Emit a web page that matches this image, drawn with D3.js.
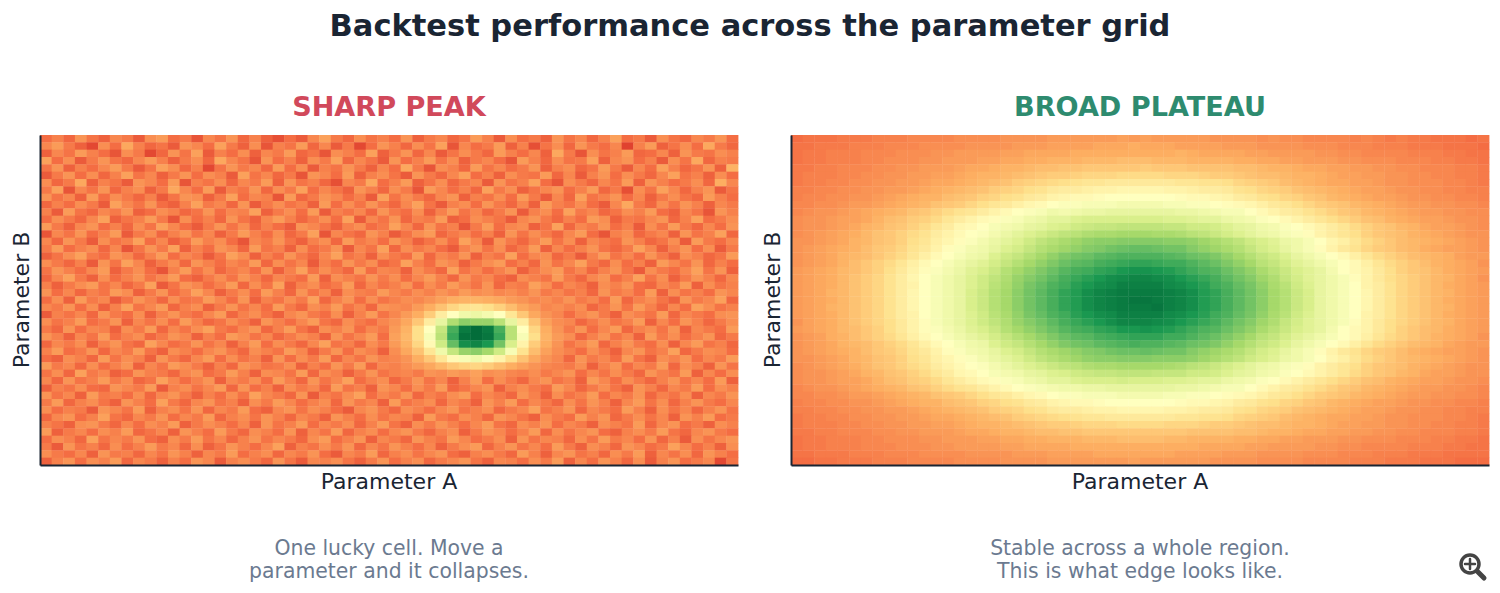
<!DOCTYPE html>
<html>
<head>
<meta charset="utf-8">
<script src="https://cdn.jsdelivr.net/npm/d3@7"></script>
<style>
  html, body { margin: 0; padding: 0; background: #fff; }
  text { font-family: "DejaVu Sans", sans-serif; }
</style>
</head>
<body>
<svg id="chart" width="1500" height="593"></svg>
<script>
// values, 0-100 on the RdYlGn ramp, 60 columns x 45 rows
var chartTitle = 'Backtest performance across the parameter grid';
var panelTitles = ['SHARP PEAK', 'BROAD PLATEAU'];
var captions = [['One lucky cell. Move a', 'parameter and it collapses.'], ['Stable across a whole region.', 'This is what edge looks like.']];
var xLabel = 'Parameter A';
var yLabel = 'Parameter B';
var rampStops = [0, 10, 20, 30, 40, 50, 60, 70, 80, 90, 100];
var rampColors = ['#a50026', '#d73027', '#f46d43', '#fdae61', '#fee08b', '#ffffbf', '#d9ef8b', '#a6d96a', '#66bd63', '#1a9850', '#006837'];

var sharpGrid = [
[20,23,19,26,21,18,24,22,17,25,27,20,22,16,24,21,26,19,23,18,15,20,17,24,28,22,19,25,21,23,20,26,18,22,24,19,21,27,23,17,25,20,22,18,26,21,24,19,23,28,20,22,17,25,21,19,24,22,26,20],
[24,27,22,18,14,25,20,29,23,19,21,17,26,24,20,28,22,18,25,16,23,21,27,19,24,17,22,14,20,26,23,19,25,21,28,16,24,20,22,27,18,23,15,21,25,19,26,22,20,24,13,23,27,18,21,25,20,29,22,19],
[18,24,21,27,23,20,16,25,22,14,19,26,21,28,17,23,20,25,18,24,22,27,19,21,16,25,23,20,28,18,22,26,19,24,17,21,25,22,19,27,23,20,24,18,29,22,16,25,21,23,27,19,20,24,18,26,22,21,25,23],
[28,20,25,17,22,26,21,19,24,27,23,18,22,25,19,29,24,21,16,26,20,23,18,25,22,28,19,24,21,17,26,20,23,27,21,25,18,22,24,20,16,27,23,19,25,21,22,28,18,24,26,20,23,17,25,21,29,19,23,22],
[21,26,18,23,20,24,27,22,17,21,28,25,19,23,14,21,26,22,24,19,27,20,25,17,23,21,26,22,18,24,20,29,22,16,25,23,19,27,21,24,20,22,26,18,23,25,19,21,27,22,17,24,20,28,23,19,21,26,18,31],
[17,22,26,20,25,19,23,28,21,24,18,22,26,20,25,23,17,28,21,24,19,22,16,26,24,20,27,18,23,25,21,17,26,22,19,24,28,20,23,18,25,22,21,27,19,24,17,23,26,20,25,22,19,24,28,21,23,18,25,20],
[25,19,22,29,18,23,21,17,26,24,20,27,16,23,21,25,19,24,22,27,18,26,21,23,19,15,24,22,29,20,23,27,18,21,25,19,22,24,17,26,21,23,28,20,16,25,22,19,24,21,27,18,26,23,20,22,25,19,30,24],
[22,28,16,24,21,26,19,23,25,18,22,29,24,20,27,17,23,21,26,19,25,22,28,20,24,21,18,26,23,19,25,22,16,27,24,20,23,19,28,22,25,18,21,24,26,20,23,27,19,22,15,25,21,28,24,19,23,26,17,21],
[26,21,24,18,27,20,25,22,19,23,17,21,26,25,18,22,28,20,24,23,16,27,19,22,26,24,20,23,17,28,21,25,22,19,24,26,18,23,21,25,20,27,22,17,24,19,28,21,23,26,20,24,18,22,25,21,19,27,23,20],
[19,23,20,25,22,17,28,24,21,26,20,18,23,28,22,24,19,26,17,22,25,21,23,18,27,20,25,21,26,22,19,24,28,21,17,23,25,20,26,22,19,24,18,27,23,21,25,20,17,24,29,22,19,25,21,26,23,18,24,22],
[23,17,27,21,19,24,22,26,18,20,25,23,19,21,26,20,24,23,28,18,22,25,20,27,17,23,21,24,19,26,22,20,25,18,23,27,21,24,19,22,26,17,23,25,20,28,22,24,19,21,25,23,27,20,18,24,21,16,26,23],
[20,25,22,19,24,28,18,21,23,27,22,16,25,20,23,19,26,21,18,24,27,23,19,22,25,20,28,17,24,21,26,19,23,22,27,18,20,25,23,21,17,24,26,22,19,23,20,27,25,18,22,21,24,26,19,23,28,20,22,25],
[27,22,18,24,26,20,23,19,25,21,28,24,20,17,22,26,21,25,19,23,20,17,26,24,21,18,23,25,20,22,28,24,19,26,21,23,16,22,27,20,24,25,18,21,28,19,24,22,26,20,23,17,25,21,27,22,19,24,20,26],
[16,24,21,26,20,23,27,17,22,25,19,23,26,21,24,18,22,27,23,20,25,19,22,28,16,24,21,19,26,23,17,21,25,27,19,22,24,20,23,18,26,21,25,22,19,24,27,20,16,23,25,19,22,24,18,26,21,23,28,19],
[24,19,26,22,17,25,21,23,28,20,24,18,21,27,23,25,20,16,24,22,26,21,18,23,25,19,27,22,24,20,26,23,18,21,25,20,28,24,17,26,22,19,23,27,21,25,18,24,22,20,26,23,19,21,25,17,27,22,20,24],
[22,27,20,23,25,19,24,16,21,26,22,28,18,23,20,26,24,19,27,21,23,18,25,20,22,26,17,24,21,28,19,25,22,24,20,17,23,26,21,25,19,22,27,18,24,20,23,26,21,19,22,28,24,18,23,26,20,25,17,22],
[18,21,25,28,22,20,26,24,19,23,27,20,24,22,17,21,28,25,18,23,20,26,22,19,24,28,21,23,18,25,22,20,27,19,24,22,26,18,23,21,28,20,24,25,19,22,17,23,27,21,24,20,26,22,18,25,23,19,21,27],
[25,22,19,23,17,26,21,28,24,18,22,25,19,26,23,20,24,22,27,19,25,21,24,17,23,20,26,22,25,19,21,28,23,20,26,24,18,22,25,27,20,23,19,26,21,24,28,22,19,25,20,23,18,27,24,21,26,19,23,20],
[21,26,23,20,24,27,18,22,25,20,16,23,27,21,25,19,22,24,20,26,18,23,28,21,25,22,19,27,20,24,23,18,25,22,19,28,21,24,20,23,26,18,22,25,27,21,24,19,23,26,21,17,25,22,20,24,28,21,26,18],
[19,24,28,22,18,25,20,23,26,21,24,27,20,18,22,25,21,26,23,19,24,22,20,27,18,25,23,21,26,22,25,20,24,27,23,19,26,22,24,20,18,25,23,21,27,22,19,24,26,20,23,28,21,25,18,22,26,23,19,24],
[23,18,22,25,27,21,24,19,22,28,17,21,26,24,20,23,27,19,25,21,28,18,23,25,20,22,27,19,24,21,23,26,20,25,22,27,24,21,26,19,23,22,28,25,20,24,22,18,25,23,26,20,19,24,22,27,18,25,21,23],
[26,20,24,19,23,21,27,25,18,22,26,20,23,28,24,18,22,25,20,27,23,19,26,21,24,18,25,23,22,27,24,22,25,23,26,24,27,25,26,24,25,23,26,22,24,21,23,19,26,22,24,20,27,18,25,21,23,20,26,24],
[20,25,18,27,22,24,17,21,26,23,19,25,21,22,27,24,20,26,18,23,21,25,22,28,19,23,26,20,25,21,23,25,24,26,28,30,31,31,30,29,27,26,24,25,23,26,22,24,20,27,19,23,25,21,18,26,22,24,28,19],
[24,22,26,20,25,18,23,28,21,24,27,19,23,25,18,22,26,21,24,20,27,22,19,25,23,27,21,24,19,26,25,24,27,30,34,38,41,42,40,37,33,29,27,24,25,23,25,19,22,26,21,27,23,19,24,20,28,25,21,23],
[17,23,21,24,19,26,22,20,25,18,23,26,22,20,24,27,19,23,25,21,18,24,26,22,20,25,18,23,27,21,24,27,30,36,44,50,54,55,53,50,42,35,29,26,24,20,24,26,22,18,25,23,21,27,19,24,22,20,25,26],
[25,21,23,27,20,22,26,18,24,21,25,20,27,23,19,21,25,22,18,26,23,20,24,27,21,19,25,22,20,24,26,29,35,44,56,68,74,72,72,66,56,44,34,28,25,24,19,22,25,21,23,27,18,24,20,26,23,19,22,25],
[22,19,26,20,24,23,18,25,22,27,19,24,21,25,28,22,20,24,26,19,23,27,21,18,25,23,26,20,24,22,27,31,40,50,64,84,96,99,96,84,66,50,38,30,26,22,26,20,24,27,19,23,25,21,26,18,24,22,20,27],
[26,23,18,24,21,27,20,23,25,19,22,26,24,18,23,20,27,25,21,24,19,22,25,23,18,26,21,24,27,20,28,32,40,52,66,86,98,99,97,86,66,52,40,31,27,25,19,23,26,21,24,18,27,22,25,20,23,26,19,22],
[19,24,22,25,18,23,26,21,19,28,24,20,22,26,21,24,18,23,27,20,25,22,19,24,28,21,23,19,25,22,27,31,38,48,62,80,92,94,90,78,60,46,36,30,26,21,24,27,19,23,26,22,20,25,18,24,27,21,23,19],
[23,27,20,22,26,19,24,22,27,21,18,25,23,20,24,26,22,19,25,23,21,27,24,18,22,26,20,25,23,18,25,29,34,42,54,64,72,74,70,62,52,41,33,28,25,23,20,25,22,18,24,26,21,23,28,19,22,25,24,20],
[20,18,25,23,19,27,21,25,23,18,26,22,19,24,27,20,25,21,23,18,26,20,25,22,27,19,24,21,26,23,24,26,30,35,42,48,52,54,51,46,40,34,29,26,24,19,26,22,24,20,27,21,18,25,23,26,20,24,22,27],
[27,22,24,19,25,20,23,26,18,24,21,27,25,22,18,23,19,26,24,21,22,25,18,23,20,26,22,27,19,24,23,25,27,29,32,35,37,38,36,33,30,28,26,24,23,22,25,18,23,26,20,24,22,27,19,25,23,18,26,21],
[21,25,19,28,22,24,18,20,26,23,22,19,24,26,20,22,27,23,18,25,24,21,27,19,25,23,18,22,26,21,23,24,22,26,25,27,26,28,25,26,24,23,25,22,24,26,20,24,21,25,22,19,26,23,21,27,18,24,20,25],
[24,19,26,21,23,27,22,25,19,21,28,24,20,23,26,18,24,22,25,20,27,23,19,26,21,24,28,20,23,25,19,22,26,21,24,18,23,27,20,25,22,19,24,26,21,23,18,27,24,20,25,22,19,23,26,21,24,20,27,18],
[18,23,21,25,20,19,26,24,22,27,17,23,25,21,24,27,19,26,20,23,18,25,22,24,19,27,21,23,18,26,24,20,25,22,27,19,21,24,26,18,23,25,22,20,27,24,19,22,25,21,18,26,23,19,24,22,27,20,25,23],
[26,21,24,18,27,22,23,20,25,19,24,26,22,18,23,20,25,21,28,24,22,19,26,17,23,21,25,28,20,24,22,26,19,23,21,25,27,20,24,22,19,26,23,18,25,21,23,27,20,24,22,26,19,23,21,25,18,24,22,26],
[22,27,19,23,25,21,18,26,23,20,28,22,19,24,26,21,23,18,25,22,27,24,20,23,25,19,26,22,24,18,27,21,23,25,19,24,22,18,26,23,27,20,24,22,19,25,21,26,23,18,24,27,21,25,19,23,26,22,20,24],
[25,20,23,22,17,26,24,21,27,18,23,25,21,26,19,24,22,27,20,18,24,26,21,25,23,20,17,24,26,22,19,25,23,20,24,26,21,23,25,19,22,24,28,21,23,26,19,24,22,20,27,23,18,25,21,24,19,23,26,21],
[19,24,26,20,23,28,21,19,24,22,26,20,24,22,27,19,23,25,21,26,23,19,24,22,18,26,23,20,25,21,24,23,18,27,22,20,25,23,19,26,24,21,18,25,22,20,27,23,26,19,22,25,21,24,18,26,23,27,20,22],
[23,21,18,25,26,22,19,24,20,25,23,27,18,22,25,23,20,24,18,26,21,23,27,20,24,22,25,19,23,27,21,18,25,22,26,23,20,24,27,21,19,25,23,26,20,24,22,18,25,23,21,27,19,24,26,20,22,18,25,23],
[27,18,22,24,20,25,23,27,19,21,24,18,26,23,20,27,22,19,25,23,20,26,18,24,21,27,19,23,25,20,24,26,22,19,23,25,18,22,26,24,20,23,27,19,25,21,24,26,20,18,23,25,22,27,21,19,24,26,22,20],
[20,25,23,19,28,21,24,22,26,20,18,25,22,27,21,24,19,23,26,21,24,22,19,25,27,20,23,26,18,24,22,19,26,23,21,27,24,20,22,25,18,26,21,24,23,19,25,21,27,22,24,20,26,19,23,17,25,21,24,26],
[22,17,26,21,23,19,25,20,23,27,22,24,19,25,18,21,26,23,20,24,28,18,23,21,25,22,26,19,24,21,26,23,20,24,18,22,25,27,19,23,26,21,24,20,27,22,18,25,23,19,26,24,20,22,28,24,20,23,18,25],
[25,22,20,24,18,26,22,23,19,24,21,26,23,18,24,22,27,20,23,25,19,24,22,26,20,17,24,22,27,19,23,25,21,24,26,20,18,23,25,22,19,27,23,18,24,26,21,23,19,25,22,27,18,24,21,25,19,26,23,20],
[18,23,26,20,25,23,27,19,24,22,18,23,20,26,24,17,23,25,22,19,26,21,17,24,23,25,21,18,22,26,20,23,25,19,22,24,26,21,18,24,23,20,25,22,27,18,24,20,26,23,19,25,17,23,26,20,22,24,14,21]
];

var plateauGrid = [
[20,21,21,21,22,22,22,23,23,23,24,24,24,24,25,25,25,25,26,26,26,26,27,27,27,27,27,27,28,27,28,27,27,27,27,27,26,26,26,26,25,26,25,25,24,24,24,24,23,24,23,22,23,22,22,21,21,21,20,21],
[21,21,22,22,22,23,23,23,24,24,24,25,25,25,25,26,26,26,26,27,27,27,28,28,28,28,29,29,29,30,29,29,29,28,28,28,28,27,27,27,26,26,26,26,25,25,25,24,24,24,23,23,23,22,22,22,21,21,21,20],
[21,22,22,23,23,23,24,24,24,25,25,25,26,26,27,27,27,27,28,28,29,29,29,29,30,30,30,30,30,30,30,30,30,31,30,29,29,29,29,28,28,27,27,27,27,26,26,25,25,24,24,24,24,23,23,23,22,22,21,21],
[21,22,22,23,23,23,24,24,25,25,25,26,26,27,27,27,28,28,29,29,30,30,31,31,31,32,32,32,33,33,33,32,32,32,31,31,31,31,30,30,29,29,28,28,27,27,27,26,26,25,25,25,24,24,24,23,23,22,22,21],
[22,22,23,23,24,24,24,25,25,26,26,27,27,27,28,29,29,30,31,31,32,33,33,34,34,35,35,35,35,35,36,35,35,35,34,34,34,34,33,33,32,31,31,30,29,29,28,28,27,27,26,26,25,25,24,24,24,23,23,22],
[22,23,23,23,24,24,25,25,26,26,27,27,28,28,29,30,31,31,32,33,34,35,36,36,37,38,38,38,39,39,39,39,38,38,38,37,36,36,35,34,33,33,32,31,31,30,29,28,28,27,27,26,26,25,25,24,24,23,23,22],
[22,23,23,24,24,25,25,26,26,27,27,28,29,29,30,31,32,33,34,36,37,38,39,40,41,42,42,43,43,43,43,43,43,42,42,41,41,40,38,37,36,35,33,32,31,30,29,29,28,28,27,26,26,25,25,25,24,24,23,22],
[23,23,24,24,25,25,26,26,27,27,28,29,30,31,32,33,34,36,37,38,40,41,43,44,44,45,46,46,47,47,47,47,46,46,45,44,44,43,41,40,38,37,36,34,33,32,31,30,29,28,28,27,26,26,25,25,24,24,23,23],
[23,24,24,25,25,26,26,27,28,29,30,31,31,33,34,35,37,38,40,41,43,44,46,47,48,48,49,50,50,50,50,50,50,49,48,48,47,46,44,43,41,40,38,37,35,34,32,31,30,29,28,28,27,26,26,25,25,24,24,23],
[24,24,25,25,26,27,27,28,29,30,31,32,34,35,36,38,40,42,43,45,47,48,50,51,51,52,52,52,53,53,53,53,52,52,51,51,50,49,48,47,45,43,42,40,38,36,35,34,32,31,30,29,28,27,27,26,26,25,25,24],
[24,25,26,26,27,28,29,30,31,32,34,35,37,39,41,42,44,46,48,50,51,52,54,53,54,55,55,56,56,56,56,56,56,55,55,54,53,52,52,50,48,46,44,43,41,39,37,35,34,32,31,30,29,28,27,27,26,26,25,25],
[25,26,26,27,28,28,29,31,33,34,36,37,39,42,44,46,48,49,51,52,54,55,57,57,59,60,60,60,60,60,60,60,59,59,58,57,57,55,54,53,51,50,48,46,44,42,40,38,36,34,33,31,30,29,28,28,27,26,26,25],
[25,26,26,27,28,29,31,32,34,35,37,39,42,44,47,48,50,52,53,54,56,57,59,60,62,63,64,64,65,65,65,65,64,64,62,62,61,59,57,56,54,53,51,50,48,46,44,42,39,37,35,34,32,31,29,28,28,27,26,25],
[25,26,27,28,29,30,32,34,35,37,39,41,44,46,48,50,51,53,55,57,59,61,63,65,66,68,69,69,70,70,70,69,69,68,66,65,63,61,59,57,55,54,52,51,49,46,44,42,40,37,35,34,33,31,30,29,28,27,26,26],
[26,26,27,28,29,31,32,34,35,37,40,42,45,47,49,51,53,55,57,59,62,65,67,69,71,73,74,74,75,75,75,75,74,74,73,71,69,67,65,62,60,58,55,54,52,50,47,45,42,39,37,35,33,32,31,30,29,28,27,26],
[26,27,28,29,30,31,33,35,36,38,41,43,46,49,51,53,54,56,59,61,64,67,69,71,73,75,76,78,79,80,80,79,78,78,75,73,71,69,67,64,61,59,56,54,52,49,46,43,41,38,36,35,33,32,30,29,28,28,27,26],
[26,27,28,29,31,32,33,35,37,39,42,45,48,50,52,54,55,59,62,64,67,70,73,76,78,79,81,82,83,83,83,83,82,81,79,78,76,73,70,67,64,62,59,56,54,52,50,48,45,42,39,37,35,33,32,31,30,28,27,27],
[26,27,28,29,31,33,35,37,39,42,45,48,50,52,54,56,58,61,64,67,70,73,76,79,81,82,84,85,86,87,87,86,85,85,83,81,79,76,73,70,66,64,61,58,56,54,52,50,48,45,42,39,37,35,33,31,30,29,28,26],
[27,28,29,30,32,33,35,37,40,43,46,49,51,53,55,58,60,63,67,70,73,76,79,82,84,85,87,88,90,91,91,90,89,87,85,83,82,79,76,73,69,66,63,60,58,56,53,50,48,46,43,40,37,35,34,32,30,29,28,27],
[27,28,29,30,32,34,36,38,41,44,47,50,52,54,56,59,62,65,68,72,75,78,81,84,86,88,90,92,93,94,94,93,92,90,88,86,84,81,78,75,71,68,64,61,58,56,54,52,49,46,43,40,38,36,34,32,31,29,28,26],
[27,28,29,30,32,34,36,38,41,44,46,50,52,54,56,59,62,66,69,73,77,80,83,85,88,90,92,93,95,95,95,95,93,92,90,88,85,83,80,77,73,69,66,62,59,56,54,52,50,46,44,41,38,36,34,32,30,29,28,27],
[27,28,29,31,32,34,36,38,41,44,47,50,52,54,56,60,63,67,70,74,78,81,84,87,89,92,94,95,96,96,96,96,95,94,92,89,87,84,81,78,74,70,67,63,60,56,54,52,50,47,44,41,38,36,34,32,31,29,28,27],
[27,28,29,30,32,34,36,38,41,44,47,50,52,54,56,60,63,67,70,74,78,81,84,87,89,92,94,95,96,97,97,96,95,94,92,89,87,84,81,78,74,70,67,63,60,56,54,52,50,47,44,41,38,36,34,32,30,29,28,27],
[27,28,29,31,32,34,36,38,41,44,47,50,52,54,56,60,63,67,70,74,78,81,84,87,89,92,94,95,96,96,96,97,95,94,92,89,87,84,81,78,74,70,67,63,60,56,54,52,50,47,44,41,38,36,34,32,31,29,28,27],
[27,28,29,30,32,34,36,38,41,44,46,50,52,54,56,59,62,66,69,73,77,80,83,85,88,90,92,93,95,95,95,95,93,92,90,88,85,83,80,77,73,69,66,62,59,56,54,52,50,46,44,41,38,36,34,32,30,29,28,27],
[26,28,29,30,32,34,36,38,40,43,46,49,52,54,56,59,62,65,68,72,75,78,81,84,86,88,90,92,94,94,94,93,92,90,88,86,84,81,78,75,71,68,64,61,58,56,54,52,49,46,43,40,38,36,34,32,31,29,28,27],
[27,28,29,30,32,33,35,37,40,43,46,49,51,53,55,58,60,63,67,70,73,76,79,82,84,85,87,88,90,90,91,90,89,87,85,83,82,79,76,73,69,66,63,60,58,56,53,50,48,46,43,40,37,35,33,32,30,29,28,27],
[26,27,28,30,31,33,35,37,39,42,45,48,50,52,54,56,58,61,64,67,70,73,76,79,81,82,84,85,86,87,87,87,85,85,83,81,79,76,73,70,66,64,61,58,56,54,52,50,48,45,42,39,37,35,33,31,30,29,28,26],
[26,27,28,29,31,32,33,35,37,39,42,45,48,50,52,54,55,59,62,64,67,70,73,76,78,79,81,82,83,84,83,83,82,81,79,78,76,73,70,67,64,62,59,56,54,52,50,48,45,42,39,37,35,33,32,31,29,28,27,27],
[26,27,28,29,30,31,33,35,36,38,41,43,46,49,51,53,54,56,59,61,64,67,69,71,73,75,76,78,79,79,80,79,78,78,75,73,71,69,67,64,61,59,56,54,52,49,46,43,41,38,36,35,33,31,30,29,28,28,27,26],
[26,26,27,28,29,31,32,34,35,37,40,42,45,47,49,51,53,55,57,59,62,65,67,69,71,73,74,74,75,75,75,74,74,74,73,71,69,67,65,62,60,58,55,54,52,50,47,45,42,39,37,35,33,32,31,30,29,28,27,26],
[25,26,27,28,29,30,32,34,35,37,39,41,44,46,48,50,51,53,55,57,59,61,63,65,66,68,69,69,70,70,70,70,69,68,66,65,63,61,59,57,55,54,52,51,49,46,44,42,40,37,35,34,33,31,30,29,28,27,26,26],
[25,26,26,27,28,29,31,32,34,35,37,39,42,44,47,48,50,52,53,54,56,57,59,60,62,63,64,64,65,65,65,64,64,64,62,62,61,59,57,56,54,53,51,50,48,46,44,42,39,37,35,34,32,31,29,28,28,27,26,26],
[25,26,26,27,28,28,29,31,33,34,36,37,39,42,44,46,48,49,51,52,54,55,57,57,59,60,60,60,61,60,60,60,59,59,58,57,57,55,54,53,51,50,48,46,44,42,40,38,36,34,33,31,30,29,28,28,27,26,26,25],
[24,25,26,26,27,28,29,30,31,32,34,35,37,39,41,42,44,46,48,50,51,52,53,54,54,55,55,56,56,56,56,56,56,55,55,54,53,52,52,50,48,46,44,43,41,39,37,35,34,32,31,30,29,28,27,27,26,26,25,24],
[24,24,25,25,26,27,27,28,29,30,31,32,34,35,36,38,40,42,43,45,47,48,50,51,51,52,52,52,53,53,53,53,52,52,51,51,50,49,48,47,45,43,42,40,38,36,35,34,32,31,30,29,28,27,27,26,26,25,25,24],
[23,24,24,25,25,26,26,27,28,29,30,31,31,33,34,35,37,38,40,41,43,44,46,47,48,48,49,50,50,50,50,50,50,49,48,48,47,46,44,43,41,40,38,37,35,34,32,31,30,29,28,28,27,26,26,25,25,24,24,23],
[23,23,24,24,25,25,26,26,27,27,28,29,30,31,32,33,34,36,37,38,40,41,43,44,44,45,46,46,47,47,47,47,46,46,45,44,44,43,41,40,38,37,36,34,33,32,31,30,29,28,28,27,26,26,25,25,24,24,23,23],
[22,23,23,24,24,25,25,26,26,27,27,28,29,29,30,31,32,33,34,36,37,38,39,40,41,42,42,43,43,43,43,43,43,42,42,41,41,40,38,37,36,35,33,32,31,30,29,29,28,28,27,26,26,25,25,25,24,24,23,22],
[22,23,23,23,24,24,25,25,26,26,27,27,28,28,29,30,31,31,32,33,34,35,36,36,37,38,38,38,39,39,39,39,38,38,38,37,36,36,35,34,33,33,32,31,31,30,29,28,28,27,27,26,26,25,25,24,24,23,23,22],
[22,22,23,23,24,24,24,25,25,26,26,27,27,27,28,29,29,30,31,31,32,33,33,34,34,35,35,35,35,35,35,35,35,35,34,34,34,34,33,33,32,31,31,30,29,29,28,28,27,27,26,26,25,25,24,24,24,23,23,22],
[21,22,22,23,23,23,24,24,25,25,25,26,26,27,27,27,28,28,29,29,30,30,31,31,31,32,32,32,33,33,33,33,32,32,31,31,31,31,30,30,29,29,28,28,27,27,27,26,26,25,25,25,24,24,24,23,23,22,22,21],
[21,22,22,23,23,23,24,24,24,25,25,25,26,26,27,27,27,27,28,28,29,29,29,29,30,30,30,30,30,30,30,30,30,30,30,29,29,29,29,28,28,27,27,27,27,26,26,25,25,24,24,24,24,23,23,23,22,22,21,21],
[21,21,22,22,22,23,23,23,24,24,24,25,25,25,25,26,26,26,26,27,27,27,28,28,28,28,29,29,29,29,29,29,29,28,28,28,28,27,27,27,26,26,26,26,25,25,25,24,24,24,23,23,23,22,22,22,21,21,21,21],
[20,20,21,21,22,22,22,23,23,23,24,24,24,24,25,25,25,25,26,26,26,26,27,27,27,27,27,27,27,28,27,27,27,27,27,27,26,26,26,26,25,25,25,25,24,24,24,24,23,23,23,22,22,22,21,21,21,20,20,20]
];

var svg = d3.select('#chart');

var color = d3.scaleLinear().domain(rampStops).range(rampColors);

// left and right panel boxes
var panels = [
  {grid: sharpGrid, left: 40, right: 738, titleColor: '#d1495b'},
  {grid: plateauGrid, left: 791, right: 1489, titleColor: '#2e8b6f'}
];
var plotTop = 135, plotBottom = 465;
var ink = '#1a2533', grey = '#6b7a90';

svg.append('text')
  .attr('x', 750).attr('y', 36)
  .attr('text-anchor', 'middle')
  .style('font-size', '30.5px').style('font-weight', 'bold').style('fill', ink)
  .text(chartTitle);

panels.forEach(function(p, i){
  var x = d3.scaleBand().domain(d3.range(p.grid[0].length)).range([p.left, p.right]);
  var y = d3.scaleBand().domain(d3.range(p.grid.length)).range([plotTop, plotBottom]);
  var mid = (p.left + p.right) / 2;

  var g = svg.append('g');

  var rows = g.selectAll('g').data(p.grid).enter().append('g')
      .attr('transform', (d, r) => `translate(0,${y(r)})`);

  rows.selectAll('rect').data(d => d).enter().append('rect')
      .attr('x', (d, c) => x(c))
      .attr('width', x.bandwidth() + 0.4)
      .attr('height', y.bandwidth() + 0.4)
      .attr('fill', d => color(d));

  // no ticks in the reference, only the two spines
  svg.append('g').attr('transform', `translate(0,${plotBottom})`)
     .call(d3.axisBottom(x).tickValues([]).tickSize(0))
     .select('.domain').attr('stroke', ink).attr('stroke-width', 2);
  svg.append('g').attr('transform', `translate(${p.left},0)`)
     .call(d3.axisLeft(y).tickValues([]).tickSize(0))
     .select('.domain').attr('stroke', ink).attr('stroke-width', 2);

  svg.append('text')
     .attr('x', mid).attr('y', 116)
     .attr('text-anchor', 'middle')
     .style('font-size', '27.1px').style('font-weight', 'bold').style('fill', p.titleColor)
     .text(panelTitles[i]);

  svg.append('text')
     .attr('x', mid).attr('y', 489)
     .attr('text-anchor', 'middle')
     .style('font-size', '22px').style('fill', ink)
     .text(xLabel);

  svg.append('text')
     .attr('transform', `translate(${p.left - 11},${(plotTop + plotBottom) / 2}) rotate(-90)`)
     .attr('text-anchor', 'middle')
     .style('font-size', '22px').style('fill', ink)
     .text(yLabel);

  svg.selectAll(null).data(captions[i]).enter().append('text')
     .attr('x', mid).attr('y', (d, k) => 554.5 + k * 23)
     .attr('text-anchor', 'middle')
     .style('font-size', '20.4px').style('fill', grey)
     .text(d => d);
});

// zoom icon bottom right
var icon = svg.append('g').attr('fill', 'none').attr('stroke', '#444').attr('stroke-linecap', 'round');
icon.append('circle').attr('cx', 1470).attr('cy', 564).attr('r', 9).attr('stroke-width', 3.5);
icon.append('path').attr('d', 'M1478 572L1484 578').attr('stroke-width', 5);
icon.append('path').attr('d', 'M1465 564H1475M1470 559V569').attr('stroke-width', 2.5);
</script>
</body>
</html>
